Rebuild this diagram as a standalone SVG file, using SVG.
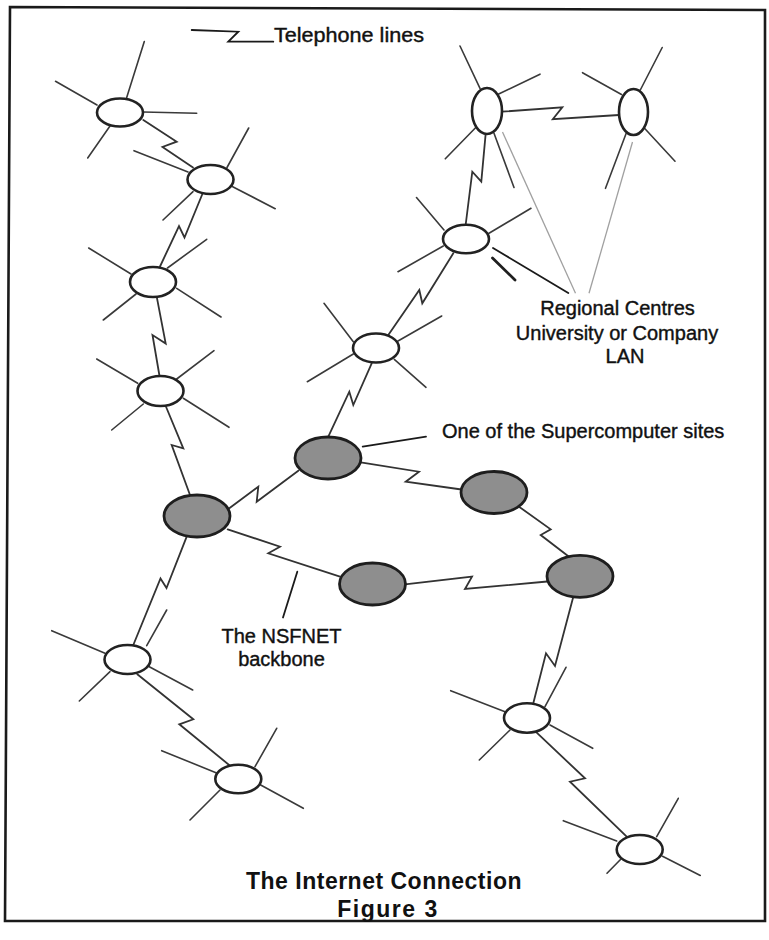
<svg xmlns="http://www.w3.org/2000/svg" width="769" height="940" viewBox="0 0 769 940">
  <style>
    .frame { fill: none; stroke: #1a1a1a; stroke-width: 2.6; stroke-linejoin: miter; }
    .spoke { fill: none; stroke: #3a3a3a; stroke-width: 1.6; stroke-linecap: round; }
    .spoke-bold { fill: none; stroke: #1f1f1f; stroke-width: 2.8; stroke-linecap: round; }
    .link { fill: none; stroke: #333; stroke-width: 1.8; stroke-linejoin: miter; stroke-linecap: round; }
    .pointer { fill: none; stroke: #1a1a1a; stroke-width: 1.8; stroke-linecap: round; }
    .pointer-light { fill: none; stroke: #a0a0a0; stroke-width: 1.3; }
    .site { fill: #ffffff; stroke: #222; stroke-width: 2.6; }
    .super { fill: #8e8e8e; stroke: #1e1e1e; stroke-width: 2.8; }
    .label { font-family: "Liberation Sans", Arial, sans-serif; font-size: 20px; fill: #111; stroke: #111; stroke-width: 0.4; }
    .title { font-family: "Liberation Sans", Arial, sans-serif; font-size: 23px; font-weight: bold; fill: #111; text-anchor: middle; letter-spacing: 0.5px; }
  </style>

  <rect width="769" height="940" fill="#ffffff"/>
  <polygon class="frame" points="10,7 765,10 765,921 5,921"/>

  <!-- legend -->
  <g id="legend">
    <polyline class="pointer" points="191.7,30 238.3,31.7 228.3,41.7 273.3,41.7"/>
    <text class="label" x="274" y="42" textLength="150" lengthAdjust="spacingAndGlyphs">Telephone lines</text>
  </g>

  <!-- telephone line connectors -->
  <g id="connectors">
    <polyline class="link" points="143.3,120 176.7,141.7 162.5,147 193,167.5"/>
    <polyline class="link" points="203,192.5 184.5,237.5 179,226 160,266.5"/>
    <polyline class="link" points="156.7,296.7 165.7,343.5 152.5,335 159.5,376"/>
    <polyline class="link" points="165.7,406 183.3,448.3 171.7,445 190,495"/>
    <polyline class="link" points="229.3,508.3 258.3,486.7 256.7,501.7 298.3,470.7"/>
    <polyline class="link" points="227.7,529.3 280,546.7 268.3,553.3 340,576.7"/>
    <polyline class="link" points="186.7,536.7 166.5,588 160.5,578.5 133.3,645"/>
    <polyline class="link" points="328.3,436.7 349.3,391.7 353.3,405 371.7,363.3"/>
    <polyline class="link" points="360.7,462.3 419,471.7 405.7,481.7 461.5,489.5"/>
    <polyline class="link" points="519,506.7 550.7,529.3 540.7,535 569,556.7"/>
    <polyline class="link" points="405,584.3 472,576.7 465,589 547.3,581.5"/>
    <polyline class="link" points="573.3,596.7 555,666 546,653.3 533.3,703.3"/>
    <polyline class="link" points="536.7,732.7 585,778.3 570,781.7 626.7,836.7"/>
    <polyline class="link" points="137.3,674.3 193.3,719.3 179.3,724.3 230,765.7"/>
    <polyline class="link" points="388.3,335 419.3,290 422.3,303.3 453.3,253.3"/>
    <polyline class="link" points="485.7,133.3 481.3,181.7 472.3,171.7 465.7,224.5"/>
    <polyline class="link" points="502,111.7 562.3,107.3 552.8,119.2 619,115"/>
  </g>

  <!-- LAN sites -->
  <g id="site-1">
    <path class="spoke" d="M126.7,97.5 L144.3,41.5 M97,105 L55.5,81.3 M143.3,112 L196.7,113.3 M110,126 L87.7,158"/>
    <ellipse class="site" cx="120" cy="112.5" rx="23" ry="14"/>
  </g>
  <g id="site-2">
    <path class="spoke" d="M227,167.5 L248.7,128 M188,172 L134,150.7 M232.7,186.7 L275.2,208.7 M193,191.7 L163,220"/>
    <ellipse class="site" cx="210.5" cy="179.5" rx="23" ry="14.5"/>
  </g>
  <g id="site-3">
    <path class="spoke" d="M167.5,268 L206.7,239.3 M131,274 L88.7,248 M136,294 L103.3,320 M176.7,288.3 L221,317"/>
    <ellipse class="site" cx="153" cy="282" rx="23" ry="15"/>
  </g>
  <g id="site-4">
    <path class="spoke" d="M176.7,379 L214,350.7 M137.7,383.3 L96.7,359 M143.3,404 L111.7,430 M183.3,398.3 L229,427.3"/>
    <ellipse class="site" cx="160.5" cy="391" rx="23" ry="15"/>
  </g>
  <g id="site-5">
    <path class="spoke" d="M146.7,645.7 L166.7,610 M105,653.3 L51.7,630.7 M110,671.7 L79.3,701 M149.3,666.7 L192.7,690"/>
    <ellipse class="site" cx="127.5" cy="659.5" rx="23" ry="14.5"/>
  </g>
  <g id="site-6">
    <path class="spoke" d="M255,766.7 L276.7,728.3 M216,772.7 L161.7,750.7 M220,790 L190,820 M260.7,785 L303.3,808.3"/>
    <ellipse class="site" cx="238.3" cy="779" rx="23" ry="14.3"/>
  </g>
  <g id="site-7">
    <path class="spoke" d="M353.3,341.7 L324,303.3 M396.7,341.7 L441.7,316 M353.3,354 L307.3,381.7 M394.3,359.3 L426,387.3"/>
    <ellipse class="site" cx="376" cy="348" rx="23" ry="14.5"/>
  </g>
  <g id="site-8">
    <path class="spoke" d="M444,230 L416.5,197.5 M489,233.3 L531,208.3 M443.3,246 L398,271.7"/>
    <path class="spoke-bold" d="M492.5,258 L515,280"/>
    <ellipse class="site" cx="466" cy="239" rx="23" ry="14.3"/>
  </g>
  <g id="site-9">
    <path class="spoke" d="M480,88.3 L460,46 M498.7,94 L540,74.2 M475.3,128 L445.3,158.8 M494,133.3 L514,187.5"/>
    <ellipse class="site" cx="487" cy="111" rx="15" ry="23"/>
  </g>
  <g id="site-10">
    <path class="spoke" d="M640.3,90 L662.2,47.5 M621.5,94.5 L582.5,72.7 M644.5,128.3 L675,161.2 M626.2,133.3 L605.5,188.3"/>
    <ellipse class="site" cx="633.5" cy="112" rx="14.5" ry="23"/>
  </g>
  <g id="site-11">
    <path class="spoke" d="M545,706.7 L566,667.3 M505,711.7 L450.7,690.7 M510,730 L479.3,760 M550,725 L592.7,748.3"/>
    <ellipse class="site" cx="527" cy="718" rx="23" ry="14.7"/>
  </g>
  <g id="site-12">
    <path class="spoke" d="M656.7,836.7 L678.3,798.3 M616.7,841 L563.3,820.7 M621,859 L607,873.3 M662.5,856.3 L700.3,875.5"/>
    <ellipse class="site" cx="639.7" cy="849.5" rx="23" ry="14.5"/>
  </g>

  <!-- supercomputer sites (NSFNET backbone) -->
  <g id="super-1"><ellipse class="super" cx="197" cy="516" rx="33" ry="21"/></g>
  <g id="super-2"><ellipse class="super" cx="328" cy="458" rx="33" ry="21"/></g>
  <g id="super-3"><ellipse class="super" cx="372.5" cy="584" rx="33" ry="21"/></g>
  <g id="super-4"><ellipse class="super" cx="494" cy="492.5" rx="33" ry="21"/></g>
  <g id="super-5"><ellipse class="super" cx="580" cy="576.3" rx="33" ry="21"/></g>

  <!-- annotations -->
  <g id="note-regional">
    <line class="pointer-light" x1="502.5" y1="132" x2="575.5" y2="293.3"/>
    <line class="pointer-light" x1="632.5" y1="142" x2="589" y2="293.3"/>
    <line class="pointer" x1="493" y1="248" x2="568.3" y2="293"/>
    <text class="label" text-anchor="middle" x="617.5" y="315">Regional Centres</text>
    <text class="label" text-anchor="middle" x="617" y="340">University or Company</text>
    <text class="label" text-anchor="middle" x="625" y="363">LAN</text>
  </g>
  <g id="note-super">
    <line class="pointer" x1="362.7" y1="446.7" x2="426" y2="436.7"/>
    <text class="label" x="442" y="438">One of the Supercomputer sites</text>
  </g>
  <g id="note-backbone">
    <line class="pointer" x1="297.3" y1="571.7" x2="283" y2="617.5"/>
    <text class="label" text-anchor="middle" x="281.5" y="643">The NSFNET</text>
    <text class="label" text-anchor="middle" x="281.5" y="666">backbone</text>
  </g>

  <g id="caption">
    <text class="title" x="384" y="889">The Internet Connection</text>
    <text class="title" x="388" y="917" style="letter-spacing:1.5px">Figure 3</text>
  </g>
</svg>
